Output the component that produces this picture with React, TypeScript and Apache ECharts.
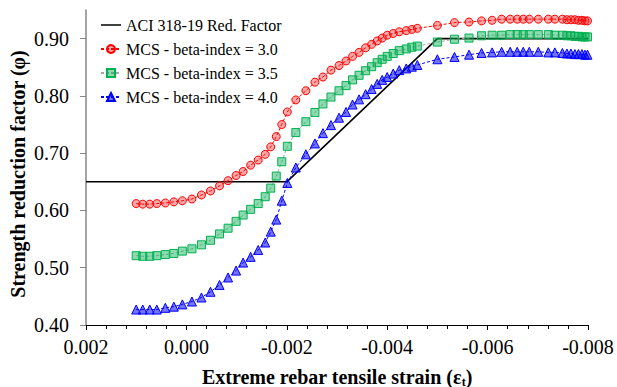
import React, { useEffect, useRef } from "react";
import * as echarts from "echarts";

const strain = [
  0.001, 0.00087, 0.00073, 0.00059, 0.00042, 0.00025, 0.00008, -0.00011, -0.0003, -0.00048,
  -0.00066, -0.00083, -0.00099, -0.00113, -0.00128, -0.00143, -0.00157, -0.00168, -0.00179, -0.0019,
  -0.00201, -0.00218, -0.00238, -0.00256, -0.00272, -0.00288, -0.00304, -0.00318, -0.00331, -0.00344,
  -0.00357, -0.00369, -0.0038, -0.0039, -0.004, -0.00412, -0.00424, -0.00438, -0.00449, -0.0046,
  -0.005, -0.00534, -0.00563, -0.00588, -0.00609, -0.00628, -0.00645, -0.00659, -0.00671, -0.00683,
  -0.00701, -0.00721, -0.00734, -0.00749, -0.00758, -0.00766, -0.00774, -0.00781, -0.00788, -0.00794,
  -0.00799,
];

const beta30 = [
  0.612, 0.611, 0.611, 0.612, 0.613, 0.615, 0.617, 0.62, 0.627, 0.634,
  0.643, 0.652, 0.661, 0.668, 0.679, 0.688, 0.698, 0.711, 0.729, 0.75,
  0.772, 0.793, 0.809, 0.824, 0.833, 0.845, 0.853, 0.861, 0.869, 0.876,
  0.884, 0.89, 0.896, 0.901, 0.906, 0.909, 0.912, 0.914, 0.916, 0.918,
  0.923, 0.928, 0.929, 0.931, 0.932, 0.934, 0.934, 0.934, 0.934, 0.934,
  0.934, 0.934, 0.934, 0.934, 0.933, 0.933, 0.933, 0.932, 0.932, 0.931,
  0.931,
];

const beta35 = [
  0.521, 0.52, 0.52, 0.521, 0.523, 0.525, 0.529, 0.533, 0.54, 0.548,
  0.559, 0.569, 0.581, 0.592, 0.602, 0.612, 0.624, 0.639, 0.66, 0.685,
  0.712, 0.736, 0.755, 0.771, 0.786, 0.798, 0.809, 0.818, 0.828, 0.836,
  0.844, 0.851, 0.858, 0.864, 0.869, 0.874, 0.879, 0.882, 0.885, 0.887,
  0.894, 0.899, 0.901, 0.905, 0.906, 0.906, 0.907, 0.907, 0.907, 0.907,
  0.907, 0.907, 0.906, 0.906, 0.905, 0.905, 0.904, 0.904, 0.903, 0.903,
  0.903,
];

const beta40 = [
  0.427, 0.427, 0.427, 0.427, 0.43, 0.432, 0.436, 0.441, 0.448, 0.458,
  0.47, 0.483, 0.495, 0.509, 0.519, 0.531, 0.544, 0.563, 0.584, 0.617,
  0.648, 0.675, 0.698, 0.717, 0.735, 0.749, 0.762, 0.772, 0.785, 0.794,
  0.803, 0.812, 0.821, 0.828, 0.833, 0.839, 0.845, 0.848, 0.851, 0.854,
  0.864, 0.868, 0.872, 0.875, 0.876, 0.877, 0.877, 0.877, 0.877, 0.877,
  0.877, 0.876, 0.876, 0.875, 0.874, 0.874, 0.873, 0.873, 0.873, 0.872,
  0.872,
];

const aciStrain = [0.002, -0.002, -0.005, -0.008];
const aciPhi = [0.65, 0.65, 0.9, 0.9];

const seriesNames = [
  "ACI 318-19 Red. Factor",
  "MCS - beta-index = 3.0",
  "MCS - beta-index = 3.5",
  "MCS - beta-index = 4.0",
];

const yTicks = [0.4, 0.5, 0.6, 0.7, 0.8, 0.9];

const FONT = "Liberation Serif, Times New Roman, serif";

const pairs = (xs: number[], ys: number[]) => xs.map((x, i) => [x, ys[i]]);

export default function App() {
  const ref = useRef<HTMLDivElement>(null);
  useEffect(() => {
    if (!ref.current) return;
    const chart = echarts.init(ref.current, undefined, { renderer: "svg" });
    chart.setOption({
      animation: false,
      backgroundColor: "#ffffff",
      grid: { left: 86, right: 29, top: 10, bottom: 62 },
      textStyle: { fontFamily: FONT },
      legend: {
        orient: "vertical",
        left: 100,
        top: 17,
        padding: 0,
        itemWidth: 20,
        itemHeight: 10,
        itemGap: 8,
        textStyle: { fontFamily: FONT, fontSize: 16, color: "#000" },
        data: [
          { name: seriesNames[0], icon: "path://M0,0L40,0L40,3L0,3Z", itemStyle: { color: "#000" } },
          seriesNames[1],
          seriesNames[2],
          seriesNames[3],
        ],
      },
      xAxis: {
        type: "value",
        inverse: true,
        min: -0.008,
        max: 0.002,
        interval: 0.002,
        axisLine: { show: true, onZero: false, lineStyle: { color: "#000", width: 1 } },
        axisTick: { show: true, length: 5, lineStyle: { color: "#000" } },
        minorTick: { show: true, splitNumber: 5, length: 4, lineStyle: { color: "#000" } },
        splitLine: { show: false },
        axisLabel: {
          margin: 12,
          fontFamily: FONT,
          fontSize: 20,
          color: "#000",
          formatter: (v: number) => (Math.abs(v) < 1e-9 ? "0.000" : v.toFixed(3)),
        },
      },
      yAxis: {
        type: "value",
        min: 0.4,
        max: 0.95,
        interval: 0.1,
        axisLine: { show: true, onZero: false, lineStyle: { color: "#868686", width: 1.5 } },
        axisTick: { show: true, length: 6, customValues: yTicks, lineStyle: { color: "#868686" } },
        splitLine: { show: false },
        axisLabel: {
          margin: 17,
          fontFamily: FONT,
          fontSize: 20,
          color: "#000",
          customValues: yTicks,
          formatter: (v: number) => v.toFixed(2),
        },
      },
      graphic: [
        {
          type: "text",
          x: 18,
          y: 174,
          rotation: Math.PI / 2,
          style: {
            text: "Strength reduction factor (φ)",
            font: `bold 20px ${FONT}`,
            fill: "#000",
            textAlign: "center",
            textVerticalAlign: "middle",
          },
        },
        {
          type: "text",
          x: 337,
          y: 377,
          style: {
            text: "{a|Extreme rebar tensile strain (ε}{s|t}{a|)}",
            rich: {
              a: { fontFamily: FONT, fontWeight: "bold", fontSize: 20, fill: "#000" },
              s: { fontFamily: FONT, fontWeight: "bold", fontSize: 12, padding: [9, 0, 0, 0], fill: "#000" },
            },
            textAlign: "center",
            textVerticalAlign: "middle",
          },
        },
      ],
      series: [
        {
          name: seriesNames[0],
          type: "line",
          data: pairs(aciStrain, aciPhi),
          showSymbol: false,
          symbol: "none",
          lineStyle: { color: "#000", width: 1.6 },
          itemStyle: { color: "#000" },
          z: 1,
        },
        {
          name: seriesNames[1],
          type: "line",
          data: pairs(strain, beta30),
          symbol: "circle",
          symbolSize: 8,
          lineStyle: { color: "#ff0000", width: 1, type: [3, 2] },
          itemStyle: { color: "rgba(255,0,0,0.35)", borderColor: "#ff0000", borderWidth: 1 },
          z: 2,
        },
        {
          name: seriesNames[2],
          type: "line",
          data: pairs(strain, beta35),
          symbol: "rect",
          symbolSize: 8,
          lineStyle: { color: "#a6a6a6", width: 1, type: [3, 2] },
          itemStyle: { color: "rgba(0,176,80,0.45)", borderColor: "#00b050", borderWidth: 1 },
          z: 2,
        },
        {
          name: seriesNames[3],
          type: "line",
          data: pairs(strain, beta40),
          symbol: "triangle",
          symbolSize: 9,
          lineStyle: { color: "#0000ff", width: 1, type: [3, 2] },
          itemStyle: { color: "rgba(0,0,255,0.55)", borderColor: "#0000ff", borderWidth: 1 },
          z: 2,
        },
      ],
    });
    return () => chart.dispose();
  }, []);
  return <div ref={ref} style={{ width: 617, height: 387, position: "absolute", left: 0, top: 0 }} />;
}
